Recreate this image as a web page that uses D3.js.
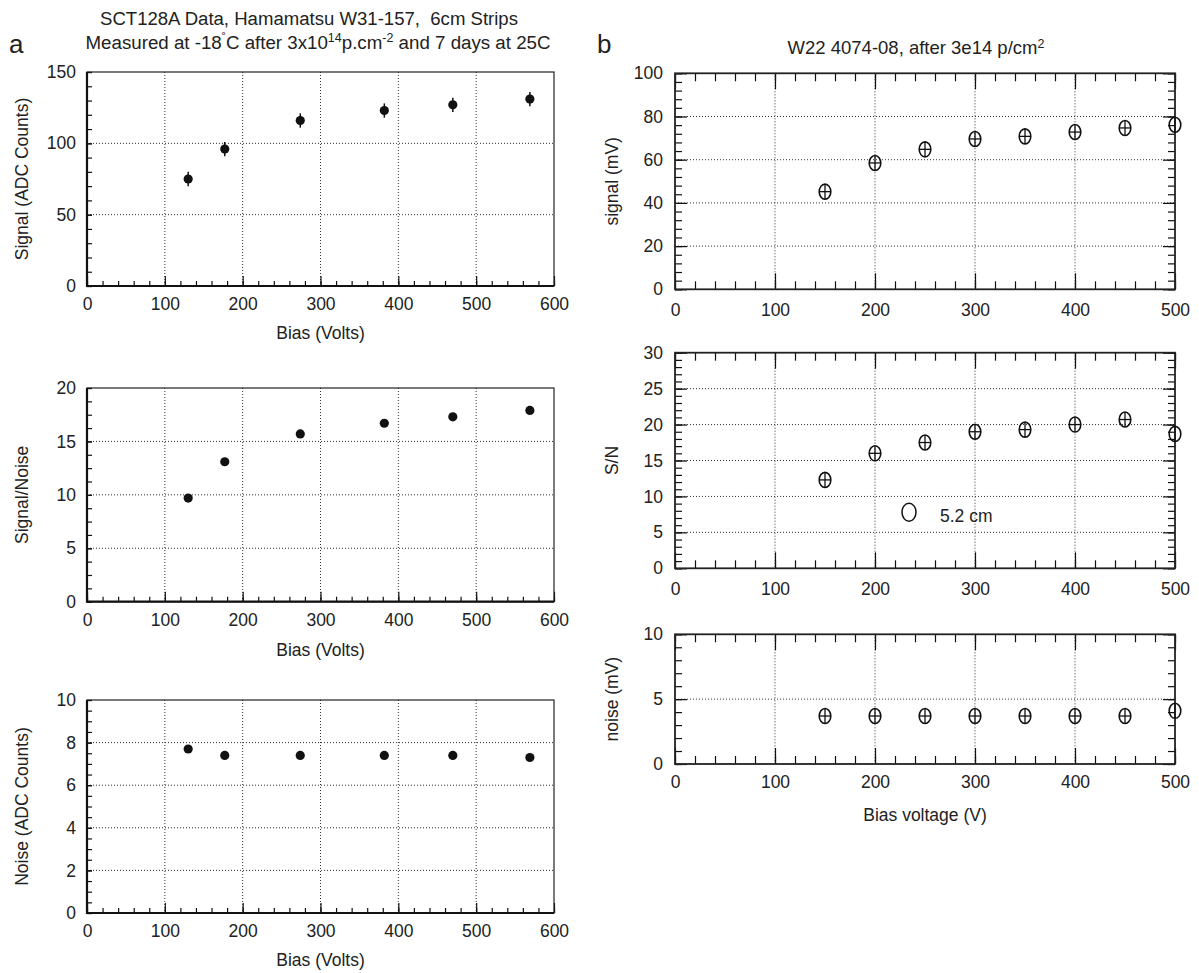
<!DOCTYPE html>
<html lang="en">
<head>
<meta charset="utf-8">
<title>SCT128A / W22 bias scans</title>
<style>
  body { margin: 0; background: #fff; }
  svg text { font-family: "Liberation Sans", Arial, sans-serif; fill: #222; }
  .grid line { stroke: #333; stroke-width: 1; stroke-dasharray: 1,2; }
  .tick line { stroke: #111; stroke-width: 1.2; }
</style>
<script src="https://d3js.org/d3.v7.min.js"></script>
</head>
<body>
<script>
// ---- data ----
// (a) SCT128A, Hamamatsu W31-157
const biasA = [130, 177, 274, 382, 470, 569];
const signalA = [75, 96, 116, 123, 127, 131];
const signalErrA = [5, 5, 5, 5, 5, 5];
const snA = [9.7, 13.1, 15.7, 16.7, 17.3, 17.9];
const noiseA = [7.7, 7.4, 7.4, 7.4, 7.4, 7.3];

// (b) W22 4074-08
const biasB = [150, 200, 250, 300, 350, 400, 450, 500];
const signalB = [45.2, 58.5, 64.8, 69.6, 70.8, 72.8, 74.7, 76.2];
const snB = [12.3, 16.0, 17.5, 19.0, 19.3, 20.0, 20.7, 18.7];
const noiseB = [3.7, 3.7, 3.7, 3.7, 3.7, 3.7, 3.7, 4.1];
const refBias = [234];
const refSN = [7.8];
const refLabel = "5.2 cm";

const ticksA = [0, 100, 200, 300, 400, 500, 600];
const ticksB = [0, 100, 200, 300, 400, 500];

const FS = 17.5; // label font size

const width = 1199, height = 973;
const svg = d3.select("body").append("svg")
    .attr("width", width)
    .attr("height", height);

function noDomain(sel) { sel.select(".domain").remove(); }

function drawPanel(o) {
    const g = svg.append("g");
    const x = d3.scaleLinear().domain(o.xDomain).range([o.left, o.right]);
    const y = d3.scaleLinear().domain(o.yDomain).range([o.bottom, o.top]);

    // dotted grid
    const grid = g.append("g").attr("class", "grid");
    grid.selectAll(".gx").data(o.xTicks.slice(1, -1)).join("line")
        .attr("x1", d => x(d)).attr("x2", d => x(d))
        .attr("y1", o.top).attr("y2", o.bottom);
    grid.selectAll(".gy").data(o.yTicks.slice(1, -1)).join("line")
        .attr("class", "gy")
        .attr("x1", o.left).attr("x2", o.right)
        .attr("y1", d => y(d)).attr("y2", d => y(d));

    const xMinor = d3.range(o.xDomain[0], o.xDomain[1] + 0.001, o.xMinor);
    const yMinor = d3.range(o.yDomain[0], o.yDomain[1] + 0.001, o.yMinor);

    // inward ticks
    g.append("g").attr("transform", `translate(0,${o.bottom})`)
        .call(d3.axisBottom(x).tickValues(xMinor).tickSize(-o.xMinorLen).tickFormat(""))
        .call(noDomain);
    g.append("g").attr("transform", `translate(0,${o.bottom})`)
        .call(d3.axisBottom(x).tickValues(o.xTicks).tickSize(-o.xMajorLen).tickFormat(""))
        .call(noDomain);
    g.append("g").attr("transform", `translate(${o.left},0)`)
        .call(d3.axisLeft(y).tickValues(yMinor).tickSize(-o.yMinorLen).tickFormat(""))
        .call(noDomain);
    g.append("g").attr("transform", `translate(${o.left},0)`)
        .call(d3.axisLeft(y).tickValues(o.yTicks).tickSize(-o.yMajorLen).tickFormat(""))
        .call(noDomain);
    if (o.mirror) {
        g.append("g").attr("transform", `translate(0,${o.top})`)
            .call(d3.axisTop(x).tickValues(xMinor).tickSize(-o.xMinorLen).tickFormat(""))
            .call(noDomain);
        g.append("g").attr("transform", `translate(0,${o.top})`)
            .call(d3.axisTop(x).tickValues(o.xTicks).tickSize(-o.xMajorLen).tickFormat(""))
            .call(noDomain);
        g.append("g").attr("transform", `translate(${o.right},0)`)
            .call(d3.axisRight(y).tickValues(yMinor).tickSize(-o.yMinorLen).tickFormat(""))
            .call(noDomain);
        g.append("g").attr("transform", `translate(${o.right},0)`)
            .call(d3.axisRight(y).tickValues(o.yTicks).tickSize(-o.yMajorLen).tickFormat(""))
            .call(noDomain);
    }

    // frame
    g.append("rect")
        .attr("x", o.left).attr("y", o.top)
        .attr("width", o.right - o.left).attr("height", o.bottom - o.top)
        .attr("fill", "none").attr("stroke", "#222").attr("stroke-width", o.frameWidth);
    if (!o.mirror) {
        g.append("path")
            .attr("d", `M${o.left},${o.top}V${o.bottom}H${o.right}`)
            .attr("fill", "none").attr("stroke", "#111").attr("stroke-width", 2.2);
    }

    // tick labels
    g.append("g").attr("transform", `translate(0,${o.bottom})`)
        .call(d3.axisBottom(x).tickValues(o.xTicks).tickSize(0).tickPadding(o.xPad))
        .call(noDomain)
        .selectAll("text").style("font-size", FS + "px").attr("fill", "#222");
    g.append("g").attr("transform", `translate(${o.left},0)`)
        .call(d3.axisLeft(y).tickValues(o.yTicks).tickSize(0).tickPadding(o.yPad))
        .call(noDomain)
        .selectAll("text").style("font-size", FS + "px").attr("fill", "#222");

    // axis titles
    g.append("text")
        .attr("x", (o.left + o.right) / 2).attr("y", o.xTitleY)
        .attr("text-anchor", "middle").style("font-size", FS + "px")
        .text(o.xTitle);
    g.append("text")
        .attr("transform", `translate(${o.yTitleX},${(o.top + o.bottom) / 2}) rotate(-90)`)
        .attr("text-anchor", "middle").style("font-size", FS + "px")
        .text(o.yTitle);

    return { g, x, y };
}

function dots(p, xs, ys, errs) {
    if (errs) {
        p.g.selectAll(".err").data(xs).join("line")
            .attr("x1", (d) => p.x(d)).attr("x2", (d) => p.x(d))
            .attr("y1", (d, i) => p.y(ys[i] - errs[i]))
            .attr("y2", (d, i) => p.y(ys[i] + errs[i]))
            .attr("stroke", "#111").attr("stroke-width", 1.5);
    }
    p.g.selectAll(".dot").data(xs).join("circle")
        .attr("cx", d => p.x(d)).attr("cy", (d, i) => p.y(ys[i]))
        .attr("r", 4.6).attr("fill", "#111");
}

function crossed(p, xs, ys) {
    const rx = 5.8, ry = 7.5;
    const xmax = p.x.domain()[1];
    const m = p.g.selectAll(".mk").data(xs).join("g")
        .attr("transform", (d, i) => `translate(${p.x(d)},${p.y(ys[i])})`);
    m.append("ellipse").attr("rx", rx).attr("ry", ry)
        .attr("fill", "none").attr("stroke", "#111").attr("stroke-width", 1.6);
    m.append("line").attr("x1", 0).attr("x2", 0).attr("y1", -ry).attr("y2", ry)
        .attr("stroke", "#111").attr("stroke-width", 1.3);
    m.filter(d => d < xmax).append("line")
        .attr("x1", -rx).attr("x2", rx).attr("y1", 0).attr("y2", 0)
        .attr("stroke", "#111").attr("stroke-width", 1.3);
}

// ---------- panel a ----------
const baseA = {
    left: 87, right: 554, xDomain: [0, 600], xTicks: ticksA, xMinor: 20,
    xMinorLen: 5, xMajorLen: 10, yMinorLen: 5, yMajorLen: 5,
    mirror: false, frameWidth: 1.2, xPad: 12, yPad: 11, xTitle: "Bias (Volts)", yTitleX: 28
};
const a1 = drawPanel(Object.assign({}, baseA, {
    top: 72, bottom: 286, yDomain: [0, 150], yTicks: [0, 50, 100, 150], yMinor: 10,
    xTitleY: 339, yTitle: "Signal (ADC Counts)"
}));
dots(a1, biasA, signalA, signalErrA);

const a2 = drawPanel(Object.assign({}, baseA, {
    top: 388, bottom: 601.7, yDomain: [0, 20], yTicks: [0, 5, 10, 15, 20], yMinor: 1.25,
    xTitleY: 656, yTitle: "Signal/Noise"
}));
dots(a2, biasA, snA);

const a3 = drawPanel(Object.assign({}, baseA, {
    top: 700, bottom: 913, yDomain: [0, 10], yTicks: [0, 2, 4, 6, 8, 10], yMinor: 0.5,
    xTitleY: 966, yTitle: "Noise (ADC Counts)"
}));
dots(a3, biasA, noiseA);

// ---------- panel b ----------
const baseB = {
    left: 675, right: 1175, xDomain: [0, 500], xTicks: ticksB, xMinor: 20,
    xMinorLen: 8, xMajorLen: 16, yMinorLen: 7, yMajorLen: 12,
    mirror: true, frameWidth: 1.8, xPad: 14, yPad: 12, xTitle: "", yTitleX: 618
};
const b1 = drawPanel(Object.assign({}, baseB, {
    top: 73.3, bottom: 289.3, yDomain: [0, 100], yTicks: [0, 20, 40, 60, 80, 100], yMinor: 4,
    xTitleY: 0, yTitle: "signal (mV)"
}));
crossed(b1, biasB, signalB);

const b2 = drawPanel(Object.assign({}, baseB, {
    top: 352.7, bottom: 568.3, yDomain: [0, 30], yTicks: [0, 5, 10, 15, 20, 25, 30], yMinor: 1,
    xTitleY: 0, yTitle: "S/N"
}));
crossed(b2, biasB, snB);
b2.g.selectAll(".ref").data(refBias).join("ellipse")
    .attr("cx", d => b2.x(d)).attr("cy", (d, i) => b2.y(refSN[i]))
    .attr("rx", 7).attr("ry", 9)
    .attr("fill", "none").attr("stroke", "#111").attr("stroke-width", 1.5);
b2.g.append("text")
    .attr("x", b2.x(refBias[0]) + 31).attr("y", b2.y(refSN[0]) + 10)
    .style("font-size", FS + "px").text(refLabel);

const b3 = drawPanel(Object.assign({}, baseB, {
    top: 634.3, bottom: 764, yDomain: [0, 10], yTicks: [0, 5, 10], yMinor: 1,
    xPad: 12, xTitleY: 821, xTitle: "Bias voltage (V)", yTitle: "noise (mV)"
}));
crossed(b3, biasB, noiseB);

// ---------- titles ----------
svg.append("text").attr("x", 9).attr("y", 53).style("font-size", "26px").text("a");
svg.append("text").attr("x", 597).attr("y", 53).style("font-size", "26px").text("b");

svg.append("text").attr("x", 309).attr("y", 25).attr("text-anchor", "middle")
    .style("font-size", "18px").style("white-space", "pre")
    .attr("textLength", 418).attr("lengthAdjust", "spacingAndGlyphs")
    .text("SCT128A Data, Hamamatsu W31-157,  6cm Strips");

const t2 = svg.append("text").attr("x", 318).attr("y", 49).attr("text-anchor", "middle")
    .style("font-size", "18px")
    .attr("textLength", 465).attr("lengthAdjust", "spacingAndGlyphs");
t2.append("tspan").text("Measured at -18");
t2.append("tspan").attr("dy", -7).style("font-size", "12px").text("˚");
t2.append("tspan").attr("dy", 7).text("C after 3x10");
t2.append("tspan").attr("dy", -7).style("font-size", "12px").text("14");
t2.append("tspan").attr("dy", 7).text("p.cm");
t2.append("tspan").attr("dy", -7).style("font-size", "12px").text("-2");
t2.append("tspan").attr("dy", 7).text(" and 7 days at 25C");

const t3 = svg.append("text").attr("x", 916).attr("y", 54).attr("text-anchor", "middle")
    .style("font-size", "18.5px");
t3.append("tspan").text("W22 4074-08, after 3e14 p/cm");
t3.append("tspan").attr("dy", -6).style("font-size", "12.5px").text("2");
</script>
</body>
</html>
